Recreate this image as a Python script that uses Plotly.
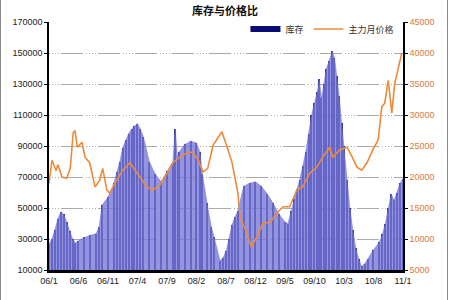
import plotly.graph_objects as go

# x positions in months since 2006/1
inv_month = [0, 0.5, 1, 1.5, 2, 2.5, 3, 3.5, 4, 4.5, 5, 6, 7, 8, 8.5, 9, 10, 11, 11.5, 12,
             12.5, 13, 13.5, 14, 14.5, 15, 15.5, 16, 17, 18, 19, 20, 21, 21.4, 21.8, 22, 23, 24,
             25, 25.6, 26, 26.8, 27.5, 28, 29, 29.5, 30, 30.5, 31, 31.5, 32, 33, 34, 35, 36, 37,
             38, 39, 40, 40.5, 41, 41.5, 42, 42.5, 43, 43.5, 44, 44.5, 45, 45.5, 45.8, 46.2, 46.6,
             47, 47.5, 48, 48.4, 48.8, 49.2, 49.6, 50, 50.5, 51, 51.5, 52, 52.5, 53, 53.5, 54, 55,
             56, 56.5, 57, 57.5, 58, 58.5, 59, 59.5, 60]
inventory = [27000, 30000, 36000, 43000, 47500, 46000, 41000, 35000, 30000, 27500, 29000, 31000,
             32500, 33500, 38000, 52000, 57000, 66000, 73000, 80000, 89000, 94000, 98000, 101000,
             103000, 104500, 101000, 96000, 80000, 72000, 67000, 74000, 80000, 101000, 82000, 86000,
             91000, 93000, 92000, 86000, 72000, 53000, 38000, 31000, 16000, 18000, 22000, 30000,
             39000, 44000, 48000, 64000, 66000, 67000, 64000, 59000, 53000, 46000, 41000, 40000,
             48000, 56000, 62000, 68000, 77000, 86000, 98000, 110000, 118000, 125000, 133000,
             121000, 130000, 140000, 145000, 151000, 147000, 135000, 122000, 105000, 90000, 68000,
             50000, 36000, 24000, 17000, 12500, 14000, 17000, 23000, 28000, 33000, 40000, 50000,
             59000, 55000, 60000, 66000, 69000]

price_month = [0, 0.5, 1.2, 1.5, 2.2, 3, 3.6, 4.1, 4.4, 4.8, 5.6, 6.1, 6.9, 7.8, 8.6, 9.1, 9.8,
               10.3, 11.5, 12.5, 13.7, 14.6, 15.4, 16.6, 17.6, 18.8, 20, 21, 22.2, 23.4, 24.4,
               25.3, 26.1, 26.9, 27.8, 29.3, 30.2, 31, 31.5, 32, 32.4, 33.5, 34.3, 35.2, 36.3,
               37.5, 38.6, 39.7, 40.8, 42, 43, 44.2, 45.4, 46.4, 47.6, 48.1, 49.3, 50.5, 51.4,
               52.2, 53, 53.9, 54.9, 55.8, 56.4, 56.9, 57.5, 58.1, 58.6, 59.1, 59.8]
price = [19000, 22700, 21000, 22000, 20000, 19800, 21400, 27100, 27500, 24800, 25600, 23200,
         22300, 18400, 19500, 21400, 17900, 17400, 19500, 21100, 22300, 21100, 20000, 18400,
         17900, 18700, 20600, 22300, 23200, 23900, 24000, 22700, 20800, 21400, 25100, 27300,
         24800, 22400, 20000, 17500, 13500, 11000, 8700, 10300, 12600, 12700, 14200, 15200,
         15200, 17900, 18400, 20600, 21600, 23200, 24800, 23200, 24400, 24800, 23200, 21600,
         21100, 22300, 24400, 26000, 31300, 31900, 35600, 30300, 35100, 37200, 40000]

tick_month = [0, 5, 10, 15, 20, 25, 30, 35, 40, 45, 50, 55, 60]
tick_text = ["06/1", "06/6", "06/11", "07/4", "07/9", "08/2", "08/7", "08/12",
             "09/5", "09/10", "10/3", "10/8", "11/1"]

title_text = "库存与价格比"
inv_name = "库存"
price_name = "主力月价格"

fig = go.Figure()
fig.add_trace(go.Bar(x=inv_month, y=inventory, width=0.2,
                     marker=dict(color="#2e2e90", line=dict(width=0)),
                     name=inv_name, showlegend=False, hoverinfo="skip"))
fig.add_trace(go.Scatter(x=inv_month, y=inventory, fill="tozeroy", mode="lines",
                         line=dict(color="rgba(110,110,210,0.9)", width=0.5),
                         fillcolor="rgba(118,118,214,0.78)",
                         showlegend=False, hoverinfo="skip"))
# legend proxy
fig.add_trace(go.Scatter(x=[None], y=[None], mode="lines", line=dict(color="#0b0b78", width=6),
                         name=inv_name))
fig.add_trace(go.Scatter(x=price_month, y=price, mode="lines", yaxis="y2",
                         line=dict(color="#ee8a38", width=1.6), name=price_name))

grid_dash = "1px,2px,1px,2px,1px,2px,1px,2px,22px,3px"
fig.update_layout(
    width=450, height=300,
    margin=dict(l=49, r=47, t=22, b=30),
    paper_bgcolor="white", plot_bgcolor="white",
    font=dict(family="Liberation Sans, Arial", size=9, color="#333333"),
    title=dict(text="<b>" + title_text + "</b>", x=0.5, xanchor="center", y=0.975, yanchor="top",
               font=dict(size=11, color="#111111", family="Noto Sans CJK SC")),
    bargap=0,
    showlegend=True,
    legend=dict(orientation="h", x=0.99, xanchor="right", y=1.03, yanchor="top",
                bgcolor="rgba(0,0,0,0)", font=dict(size=9, family="Noto Sans CJK SC", color="#333"),
                itemwidth=30, tracegroupgap=0),
    xaxis=dict(range=[0, 60], tickmode="array", tickvals=tick_month, ticktext=tick_text,
               showgrid=False, showline=True, linecolor="black", linewidth=3, ticks="",
               tickfont=dict(size=9, color="#222"), zeroline=False),
    yaxis=dict(range=[10000, 170000], dtick=20000, tick0=10000, showgrid=True,
               gridcolor="#aaaaaa", griddash=grid_dash, gridwidth=1,
               showline=True, linecolor="black", linewidth=1.5, ticks="outside", ticklen=3,
               tickcolor="black", tickfont=dict(size=9, color="#222"), zeroline=False,
               tickformat="d"),
    yaxis2=dict(range=[5000, 45000], dtick=5000, tick0=5000, overlaying="y", side="right",
                showgrid=False, showline=True, linecolor="black", linewidth=1.5,
                ticks="outside", ticklen=3, tickcolor="black",
                tickfont=dict(size=9, color="#e07b39"), zeroline=False, tickformat="d"),
)
fig.add_shape(type="rect", xref="paper", yref="paper",
              x0=(0.5 - 49) / 354, x1=(447.5 - 49) / 354,
              y0=(30 - 299.5) / 248, y1=(278 - 0.5) / 248 - 0.005,
              line=dict(color="#888888", width=1), layer="above")
fig.write_html("out.html")
